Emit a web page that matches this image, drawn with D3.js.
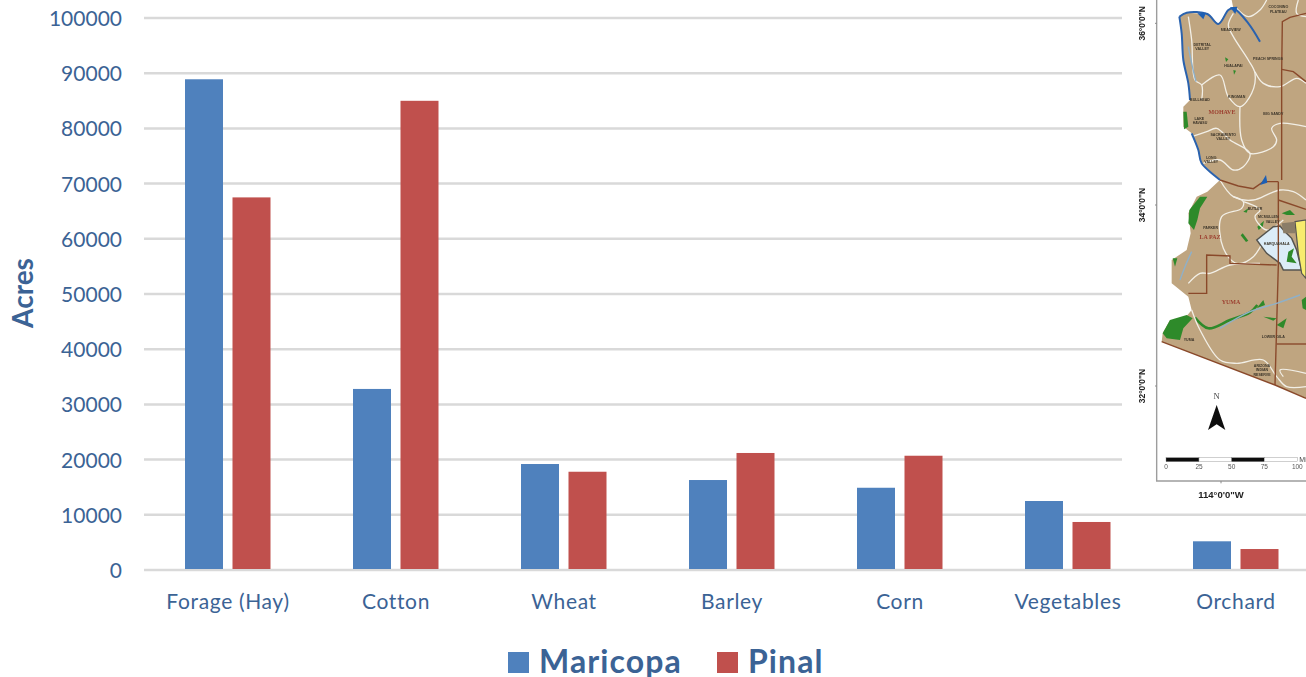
<!DOCTYPE html>
<html>
<head>
<meta charset="utf-8">
<script src="https://cdn.jsdelivr.net/npm/d3@7"></script>
<style>
  html, body { margin: 0; padding: 0; background: #fff; overflow: hidden; }
  svg { display: block; }
  text { font-family: Lato, "Open Sans", sans-serif; }
</style>
</head>
<body>
<svg id="chart" width="1306" height="677"></svg>
<script>
// Irrigated acreage by crop for two Arizona counties
const categories = ["Forage (Hay)", "Cotton", "Wheat", "Barley", "Corn", "Vegetables", "Orchard"];
const seriesNames = ["Maricopa", "Pinal"];
const maricopa = [88900, 32800, 19200, 16300, 14900, 12500, 5200];
const pinal = [67500, 85000, 17800, 21200, 20700, 8700, 3800];
const yTicks = [0, 10000, 20000, 30000, 40000, 50000, 60000, 70000, 80000, 90000, 100000];

const ink = "#3b6395";
const seriesColors = ["#4f81bd", "#c0504d"];
const gridColor = "#d9d9d9";

const svg = d3.select("#chart");
const x = d3.scaleBand().domain(categories).range([144, 1320]);
const series = d3.scaleBand().domain(seriesNames).range([41, 126.5]).paddingInner(0.2);
const y = d3.scaleLinear().domain([0, 100000]).range([570, 18]);

// Gridlines: the zero line and the 10000 line run the full width, the rest stop at the inset map
svg.append("g").selectAll("line").data(yTicks).join("line")
  .attr("x1", 144)
  .attr("x2", 1306)
  .attr("y1", d => y(d))
  .attr("y2", d => y(d))
  .attr("stroke", gridColor)
  .attr("stroke-width", 2.5);

// Value axis
const yAxis = svg.append("g")
  .attr("transform", "translate(122,0)")
  .call(d3.axisLeft(y).tickValues(yTicks).tickSize(0).tickPadding(0).tickFormat(d3.format("d")));
yAxis.select(".domain").remove();
yAxis.selectAll("text")
  .attr("fill", ink).style("font-size", "21px").style("font-family", "Lato, sans-serif")
  .attr("dy", "0.36em");

// Category axis
const xAxis = svg.append("g")
  .attr("transform", "translate(0,601)")
  .call(d3.axisBottom(x).tickSize(0).tickPadding(0));
xAxis.select(".domain").remove();
xAxis.selectAll("text")
  .attr("fill", ink).style("font-size", "21px").style("font-family", "Lato, sans-serif")
  .attr("y", 0).attr("dy", "0.36em").attr("letter-spacing", "0.65");

// Inset locator map, in its own grid of units that the two scales place on the page
const mx = d3.scaleLinear().domain([0, 558]).range([1120, 1306]);
const my = d3.scaleLinear().domain([0, 1500]).range([0, 500]);
const outline = d3.line().x(d => mx(d[0])).y(d => my(d[1]));
const smooth = d3.line().x(d => mx(d[0])).y(d => my(d[1])).curve(d3.curveCatmullRom.alpha(0.5));

const land = [[335,0],[340,25],[325,30],[295,72],[262,42],[200,38],[178,50],[185,100],[190,180],[205,250],[210,300],[190,320],[190,380],[215,400],[235,450],[245,490],[300,540],[262,575],[230,590],[205,640],[212,700],[200,750],[155,780],[155,850],[205,890],[215,930],[190,960],[150,960],[128,1000],[125,1025],[465,1155],[558,1195],[558,0]];
const riverWest = [[178,50],[185,100],[190,180],[205,250],[210,300]];
const riverWest2 = [[215,400],[235,450],[245,490],[300,540]];
const riverNorth = [[178,50],[200,38],[262,42],[295,72],[325,30],[340,25],[385,70],[420,125]];
const riverPale = [[205,140],[215,190],[228,245]];
const riverPale2 = [[215,755],[195,800],[180,840]];
const riverGila = [[300,985],[390,935],[470,910],[540,885]];
const lakes = [[[232,40],[258,38],[250,58]], [[420,555],[438,525],[442,548]], [[330,22],[352,20],[346,42]]];
const whiteLines = [
  [[205,50],[215,120],[225,240],[245,255],[245,300]],
  [[245,255],[300,225],[325,290],[360,320],[395,280],[405,220],[385,180],[340,110],[325,75],[340,40]],
  [[405,215],[430,250],[480,260],[530,235],[558,250]],
  [[360,320],[365,420],[390,460],[460,440],[470,420],[455,385],[480,370],[558,380]],
  [[215,410],[260,395],[290,385],[330,420],[390,460],[370,500],[340,510],[300,480],[250,490]],
  [[350,25],[385,50],[420,30],[440,0]],
  [[300,540],[340,590],[400,600],[450,580],[480,570],[520,575],[558,600]],
  [[340,590],[370,605],[365,625],[305,650],[310,745],[350,790],[400,770],[440,700]],
  [[370,605],[420,630],[405,650],[440,690],[490,660]],
  [[215,930],[240,990],[300,1080],[350,1090],[430,1080],[470,1130],[500,1160],[558,1160]],
  [[205,850],[240,820],[270,820],[330,795],[420,790]],
  [[490,1130],[480,1110],[558,1120]],
  [[535,0],[530,40],[558,50]]
];
const brownLines = [
  [[558,40],[510,52],[487,65],[485,215],[485,540]],
  [[485,208],[520,215],[558,245]],
  [[300,540],[355,558],[400,566],[430,545],[475,545]],
  [[475,545],[475,795],[465,1155]],
  [[475,600],[558,628]],
  [[470,795],[330,790],[330,768],[260,765],[260,880],[205,880]],
  [[470,1032],[558,1032]]
];
const greens = [
  [[240,590],[262,590],[240,625],[232,660],[222,690],[205,670],[208,630]],
  [[190,335],[200,335],[205,380],[192,388]],
  [[150,960],[128,1000],[140,1015],[180,1020],[190,985],[218,955],[200,945]],
  [[470,975],[500,955],[490,985]],
  [[410,925],[430,900],[435,915]],
  [[430,950],[470,955],[460,962]],
  [[368,700],[385,722],[378,726],[362,706]],
  [[412,680],[432,662],[428,680],[416,690]],
  [[370,635],[385,625],[380,638]],
  [[340,210],[348,212],[342,224]],
  [[315,172],[325,178],[318,186]],
  [[485,640],[510,630],[525,645],[500,645]],
  [[158,775],[172,775],[165,800]],
  [[545,900],[558,890],[558,930],[548,925]]
];
const gilaStrip = [[225,953],[265,985],[330,960],[390,937],[412,915]];
const urban = [[410,720],[460,680],[480,678],[495,695],[515,715],[530,750],[545,810],[490,810],[480,790],[440,760]];
const urbanGreen = [[505,755],[522,745],[515,770],[530,790],[500,785]];
const yellowZone = [[525,665],[558,660],[558,835],[545,820],[535,760]];
const ghostBlock = [[485,670],[525,665],[525,700],[490,700]];
const scaleLabels = ["0", "25", "50", "75", "100"];
const scaleStops = [138, 237, 335, 433, 532];
const latLabels = [[`36°0'0"N`, 70], [`34°0'0"N`, 615], [`32°0'0"N`, 1158]];
const placeNames = [
  ["MOHAVE", 306, 336, true], ["LA PAZ", 270, 711, true], ["YUMA", 333, 905, true],
  ["MEADVIEW", 332, 90, false], ["DETRITAL", 247, 133, false], ["VALLEY", 247, 146, false],
  ["HUALAPAI", 340, 198, false], ["PEACH SPRINGS", 444, 175, false], ["KINGMAN", 350, 290, false],
  ["BULLHEAD", 240, 300, false], ["LAKE", 238, 355, false], ["HAVASU", 240, 369, false],
  ["BIG SANDY", 460, 342, false], ["SACRAMENTO", 310, 403, false], ["VALLEY", 310, 416, false],
  ["LONG", 274, 473, false], ["VALLEY", 274, 486, false], ["PARKER", 272, 683, false],
  ["BUTLER", 405, 626, false], ["MCMULLEN", 445, 650, false], ["VALLEY", 458, 664, false],
  ["YUMA", 207, 1018, false], ["LOWER GILA", 460, 1010, false], ["COCONINO", 475, 20, false],
  ["PLATEAU", 475, 35, false], ["HARQUAHALA", 470, 732, false], ["ARIZONA", 426, 1096, false],
  ["INDIAN", 426, 1110, false], ["RESERVE", 426, 1124, false]
];

const defs = svg.append("defs");
defs.append("filter").attr("id", "soft").append("feGaussianBlur").attr("stdDeviation", 0.7);

// White backing that interrupts the gridlines behind the map
svg.append("rect").attr("x", 1122).attr("y", 0).attr("width", 184).attr("height", 505).attr("fill", "#fff");

const map = svg.append("g").attr("filter", "url(#soft)");
map.append("path").attr("d", outline(land) + "Z").attr("fill", "#bfa580");
map.selectAll(".green").data(greens).join("path").attr("class", "green")
  .attr("d", d => outline(d) + "Z").attr("fill", "#2f8a2a");
map.append("path").attr("d", smooth(gilaStrip)).attr("fill", "none").attr("stroke", "#2f8a2a").attr("stroke-width", 2.6);
map.selectAll(".white").data(whiteLines).join("path").attr("class", "white")
  .attr("d", d => smooth(d)).attr("fill", "none").attr("stroke", "#f2efe6").attr("stroke-width", 1.3);
map.append("path").attr("d", outline(urban) + "Z")
  .attr("fill", "#dcecf7").attr("stroke", "#55544f").attr("stroke-width", 1.5);
map.append("path").attr("d", outline(yellowZone) + "Z")
  .attr("fill", "#f7ec6d").attr("stroke", "#55544f").attr("stroke-width", 1.2);
map.append("path").attr("d", outline(ghostBlock) + "Z").attr("fill", "#8a7d68");
map.append("path").attr("d", outline(urbanGreen) + "Z").attr("fill", "#2f8a2a");
map.selectAll(".brown").data(brownLines).join("path").attr("class", "brown")
  .attr("d", d => outline(d)).attr("fill", "none").attr("stroke", "#8a4a2c").attr("stroke-width", 1.4);
map.append("path").attr("d", outline([[125,1025],[465,1155],[558,1195]])).attr("fill", "none").attr("stroke", "#8a4a2c").attr("stroke-width", 1.5);
map.selectAll(".river").data([riverWest, riverWest2, riverNorth]).join("path").attr("class", "river")
  .attr("d", d => smooth(d)).attr("fill", "none").attr("stroke", "#2a62ae").attr("stroke-width", 2);
map.selectAll(".pale").data([riverPale, riverPale2, riverGila]).join("path").attr("class", "pale")
  .attr("d", d => smooth(d)).attr("fill", "none").attr("stroke", "#8fb0c8").attr("stroke-width", 1.4);
map.selectAll(".lake").data(lakes).join("path").attr("class", "lake")
  .attr("d", d => outline(d) + "Z").attr("fill", "#1f5fb4");

map.selectAll(".place").data(placeNames).join("text").attr("class", "place")
  .attr("x", d => mx(d[1])).attr("y", d => my(d[2]))
  .attr("text-anchor", "middle").attr("dy", "0.35em")
  .attr("fill", d => d[3] ? "#9c3f2f" : "#3d362a")
  .style("font-family", d => d[3] ? "'Liberation Serif', serif" : "'Liberation Sans', sans-serif")
  .style("font-size", d => d[3] ? "6px" : "3.6px")
  .style("font-weight", "bold")
  .text(d => d[0]);

// Map frame, open on the right where it runs off the page
map.append("path").attr("d", outline([[110,0],[110,1443],[558,1443]]))
  .attr("fill", "none").attr("stroke", "#9d9d9d").attr("stroke-width", 1.4);
map.selectAll(".latTick").data(latLabels).join("line").attr("class", "latTick")
  .attr("x1", mx(105)).attr("x2", mx(110)).attr("y1", d => my(d[1])).attr("y2", d => my(d[1]))
  .attr("stroke", "#8a8a8a");
map.append("line").attr("x1", mx(303)).attr("x2", mx(303)).attr("y1", my(1443)).attr("y2", my(1450)).attr("stroke", "#8a8a8a");
map.selectAll(".lat").data(latLabels).join("text").attr("class", "lat")
  .attr("transform", d => `translate(${mx(66)},${my(d[1])}) rotate(-90)`)
  .attr("text-anchor", "middle").attr("dy", "0.35em")
  .attr("fill", "#222").style("font-family", "'Liberation Sans', sans-serif")
  .style("font-size", "8.5px").style("font-weight", "bold")
  .text(d => d[0]);
map.append("text").attr("x", mx(303)).attr("y", my(1494)).attr("text-anchor", "middle")
  .attr("fill", "#222").style("font-family", "'Liberation Sans', sans-serif")
  .style("font-size", "9.5px").style("font-weight", "bold").text(`114°0'0"W`);

// North arrow
map.append("path").attr("d", outline([[290,1215],[316,1290],[290,1273],[264,1290]]) + "Z").attr("fill", "#111");
map.append("text").attr("x", mx(290)).attr("y", my(1198)).attr("text-anchor", "middle")
  .attr("fill", "#444").style("font-family", "'Liberation Serif', serif").style("font-size", "8.5px").text("N");

// Scale bar
map.selectAll(".scaleSeg").data(d3.pairs(scaleStops)).join("rect").attr("class", "scaleSeg")
  .attr("x", d => mx(d[0])).attr("width", d => mx(d[1]) - mx(d[0]))
  .attr("y", my(1373)).attr("height", my(1385) - my(1373))
  .attr("fill", (d, i) => i % 2 ? "#fff" : "#111").attr("stroke", "#888").attr("stroke-width", 0.4);
map.selectAll(".scaleText").data(scaleLabels).join("text").attr("class", "scaleText")
  .attr("x", (d, i) => mx(scaleStops[i])).attr("y", my(1408)).attr("text-anchor", "middle")
  .attr("fill", "#555").style("font-family", "'Liberation Sans', sans-serif").style("font-size", "6.5px").text(d => d);
map.append("text").attr("x", mx(538)).attr("y", my(1385)).attr("fill", "#444")
  .style("font-family", "'Liberation Sans', sans-serif").style("font-size", "7px").text("Miles");

// Bars, one group per crop
const rows = categories.map((c, i) => ({ category: c, values: [maricopa[i], pinal[i]] }));
svg.append("g").selectAll("g").data(rows).join("g")
  .attr("transform", d => `translate(${x(d.category)},0)`)
  .selectAll("rect")
  .data(d => d.values.map((v, i) => ({ name: seriesNames[i], value: v })))
  .join("rect")
  .attr("x", d => series(d.name))
  .attr("width", series.bandwidth())
  .attr("y", d => y(d.value))
  .attr("height", d => y(0) - y(d.value) - 1)
  .attr("fill", (d, i) => seriesColors[i]);

// Axis title
svg.append("text")
  .attr("transform", "translate(23,293) rotate(-90)")
  .attr("text-anchor", "middle").attr("dy", "0.35em")
  .attr("fill", ink).style("font-size", "28px").style("font-weight", "bold")
  .text("Acres");

// Legend
const legendX = d3.scaleOrdinal().domain(seriesNames).range([508, 717]);
const legend = svg.append("g").selectAll("g").data(seriesNames).join("g")
  .attr("transform", d => `translate(${legendX(d)},652)`);
legend.append("rect").attr("width", 21).attr("height", 21).attr("fill", (d, i) => seriesColors[i]);
legend.append("text").attr("x", 31).attr("y", 21)
  .attr("fill", ink).style("font-size", "32px").style("font-weight", "bold").attr("letter-spacing", "1.1")
  .text(d => d);
</script>
</body>
</html>
